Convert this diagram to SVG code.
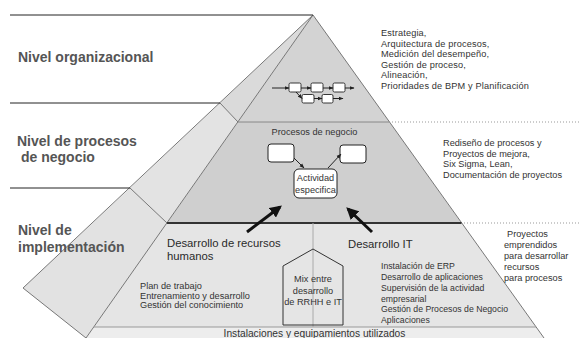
<svg xmlns="http://www.w3.org/2000/svg" width="580" height="338" viewBox="0 0 580 338">
<defs>
<marker id="big" viewBox="0 0 10 10" refX="8" refY="5" markerWidth="4" markerHeight="4" orient="auto" markerUnits="strokeWidth"><path d="M0,0 L10,5 L0,10 z" fill="#111"/></marker>
<marker id="sm" viewBox="0 0 10 10" refX="9" refY="5" markerWidth="5" markerHeight="5" orient="auto" markerUnits="userSpaceOnUse"><path d="M0,1 L10,5 L0,9 z" fill="#222"/></marker>
</defs>
<style>
text{font-family:"Liberation Sans",Arial,sans-serif;fill:#333}
.lvl{font-weight:bold;font-size:14px;fill:#555}
.s9{font-size:9.2px}
.s87{font-size:8.7px}
.mid{font-size:11.3px;fill:#2a2a2a}
.edge{stroke:#777;stroke-width:1;fill:none}
.hl{stroke:#222;stroke-width:1}
.dot{stroke:#999;stroke-width:1;stroke-dasharray:1 2}
.box{fill:#fff;stroke:#222;stroke-width:1}
.flow{fill:#fff;stroke:#222;stroke-width:0.9}
.sa{stroke:#222;stroke-width:1;fill:none;marker-end:url(#sm)}
.ba{stroke:#111;stroke-width:3;fill:none;marker-end:url(#big)}
</style>
<rect width="580" height="338" fill="#fff"/>
<g id="pyramid">
<polygon points="313,15 389.5,122 238,122" fill="#d3d3d3"/>
<polygon points="313,15 220,103 238,122" fill="#dadada"/>
<polygon points="238,122 389.5,122 461.5,223 167,223" fill="#cfcfcf"/>
<polygon points="220,103 130,188 167,223 238,122" fill="#e3e3e3"/>
<polygon points="167,223 461.5,223 536,327 94,327" fill="#e5e5e5"/>
<polygon points="130,188 23,288 86,338 167,223" fill="#e2e2e2"/>
<polygon points="94,327 536,327 544,338 86,338" fill="#ededed"/>
<line class="edge" x1="313" y1="15" x2="544" y2="338"/>
<line class="edge" x1="313" y1="15" x2="23" y2="288"/>
<line class="edge" x1="313" y1="15" x2="86" y2="338"/>
<line class="edge" x1="220" y1="103" x2="238" y2="122" stroke="#555"/>
<line class="edge" x1="130" y1="188" x2="167" y2="223" stroke="#555"/>
<line class="edge" x1="23" y1="288" x2="86" y2="338"/>
<line x1="238" y1="122" x2="389.5" y2="122" stroke="#888"/>
<line x1="167" y1="223" x2="461.5" y2="223" stroke="#333" stroke-width="2"/>
<line x1="94" y1="327" x2="536" y2="327" stroke="#999"/>
<line x1="313" y1="223" x2="313" y2="327" stroke="#aaa"/>
<line class="hl" x1="10" y1="15" x2="313" y2="15" stroke="#333"/>
<line class="hl" x1="10" y1="103" x2="220" y2="103"/>
<line class="hl" x1="10" y1="188" x2="130" y2="188"/>
<line class="dot" x1="392" y1="122" x2="580" y2="122"/>
<line class="dot" x1="464" y1="223" x2="580" y2="223"/>
</g>
<g id="level-org"><text class="lvl" x="18" y="62">Nivel organizacional</text></g>
<g id="level-proc"><text class="lvl" x="17" y="146">Nivel de procesos</text><text class="lvl" x="21" y="162">de negocio</text></g>
<g id="level-impl"><text class="lvl" x="18" y="235">Nivel de</text><text class="lvl" x="18" y="252">implementación</text></g>
<g id="text-org" class="s9">
<text class="s9" x="381" y="36" letter-spacing="0.15">Estrategia,</text>
<text class="s9" x="381" y="46.5" letter-spacing="0.15">Arquitectura de procesos,</text>
<text class="s9" x="381" y="57" letter-spacing="0.15">Medición del desempeño,</text>
<text class="s9" x="381" y="67.5" letter-spacing="0.15">Gestión de proceso,</text>
<text class="s9" x="381" y="78" letter-spacing="0.15">Alineación,</text>
<text class="s9" x="381" y="88.5" letter-spacing="0.15">Prioridades de BPM y Planificación</text>
</g>
<g id="text-proc">
<text class="s9" x="443" y="146">Rediseño de procesos y</text>
<text class="s9" x="443" y="156.5">Proyectos de mejora,</text>
<text class="s9" x="443" y="167">Six Sigma, Lean,</text>
<text class="s9" x="443" y="177.5">Documentación de proyectos</text>
</g>
<g id="text-impl">
<text class="s9" x="507" y="237">Proyectos</text>
<text class="s9" x="504" y="248">emprendidos</text>
<text class="s9" x="504" y="259">para desarrollar</text>
<text class="s9" x="504" y="270">recursos</text>
<text class="s9" x="504" y="281">para procesos</text>
</g>
<g id="flow">
<rect class="flow" x="289" y="83" width="12" height="9" rx="1.5"/>
<rect class="flow" x="311" y="83" width="12" height="9" rx="1.5"/>
<rect class="flow" x="333" y="83" width="12" height="9" rx="1.5"/>
<rect class="flow" x="302" y="94.5" width="12" height="8.5" rx="1.5"/>
<rect class="flow" x="322" y="94.5" width="11" height="8.5" rx="1.5"/>
</g>
<g id="procesos-negocio"><text class="s9" x="314.5" y="135" text-anchor="middle">Procesos de negocio</text></g>
<g id="box-left"><rect class="box" x="268" y="144" width="26" height="18" rx="3"/></g>
<g id="box-right"><rect class="box" x="340" y="145" width="26" height="18" rx="3"/></g>
<g id="actividad"><rect class="box" x="294" y="169" width="43" height="29" rx="5"/>
<text class="s9" x="315.5" y="181" text-anchor="middle">Actividad</text>
<text class="s9" x="315.5" y="193" text-anchor="middle">especifica</text></g>
<g id="rrhh"><text class="mid" x="167" y="247">Desarrollo de recursos</text><text class="mid" x="167" y="260">humanos</text></g>
<g id="it"><text class="mid" x="348" y="248">Desarrollo IT</text></g>
<g id="rrhh-list">
<text class="s9" x="140" y="289">Plan de trabajo</text>
<text class="s9" x="140" y="298.5">Entrenamiento y desarrollo</text>
<text class="s9" x="140" y="308">Gestión del conocimiento</text>
</g>
<g id="it-list">
<text class="s87" x="381" y="269">Instalación de ERP</text>
<text class="s87" x="381" y="280">Desarrollo de aplicaciones</text>
<text class="s87" x="381" y="291">Supervisión de la actividad</text>
<text class="s87" x="381" y="301.5">empresarial</text>
<text class="s87" x="381" y="312">Gestión de Procesos de Negocio</text>
<text class="s87" x="381" y="323">Aplicaciones</text>
</g>
<g id="mix"><polygon points="283,325 283,266 313,249 343,266 343,325" fill="none" stroke="#333" stroke-width="1"/>
<text class="s9" x="313" y="282" text-anchor="middle" font-size="8.8">Mix entre</text>
<text class="s9" x="313" y="294" text-anchor="middle" font-size="8.8">desarrollo</text>
<text class="s9" x="313" y="304.5" text-anchor="middle" font-size="8.8">de RRHH e IT</text></g>
<g id="base"><text x="314.5" y="336.5" text-anchor="middle" font-size="10.2">Instalaciones y equipamientos utilizados</text></g>
<g id="connectors">
<line class="sa" x1="272" y1="88" x2="289" y2="88"/>
<line class="sa" x1="301" y1="88" x2="311" y2="88"/>
<line class="sa" x1="323" y1="88" x2="333" y2="88"/>
<line class="sa" x1="345" y1="88" x2="354" y2="88"/>
<polyline class="sa" points="296,92 302,98.5"/>
<line class="sa" x1="314" y1="98.5" x2="322" y2="98.5"/>
<line class="sa" x1="333" y1="98.5" x2="343" y2="98.5"/>
<line class="sa" x1="294" y1="158" x2="304" y2="168"/>
<line class="sa" x1="328" y1="168" x2="341" y2="154"/>
<line class="ba" x1="247" y1="232" x2="280" y2="207"/>
<line class="ba" x1="372" y1="232" x2="348" y2="209"/>
</g>
</svg>
